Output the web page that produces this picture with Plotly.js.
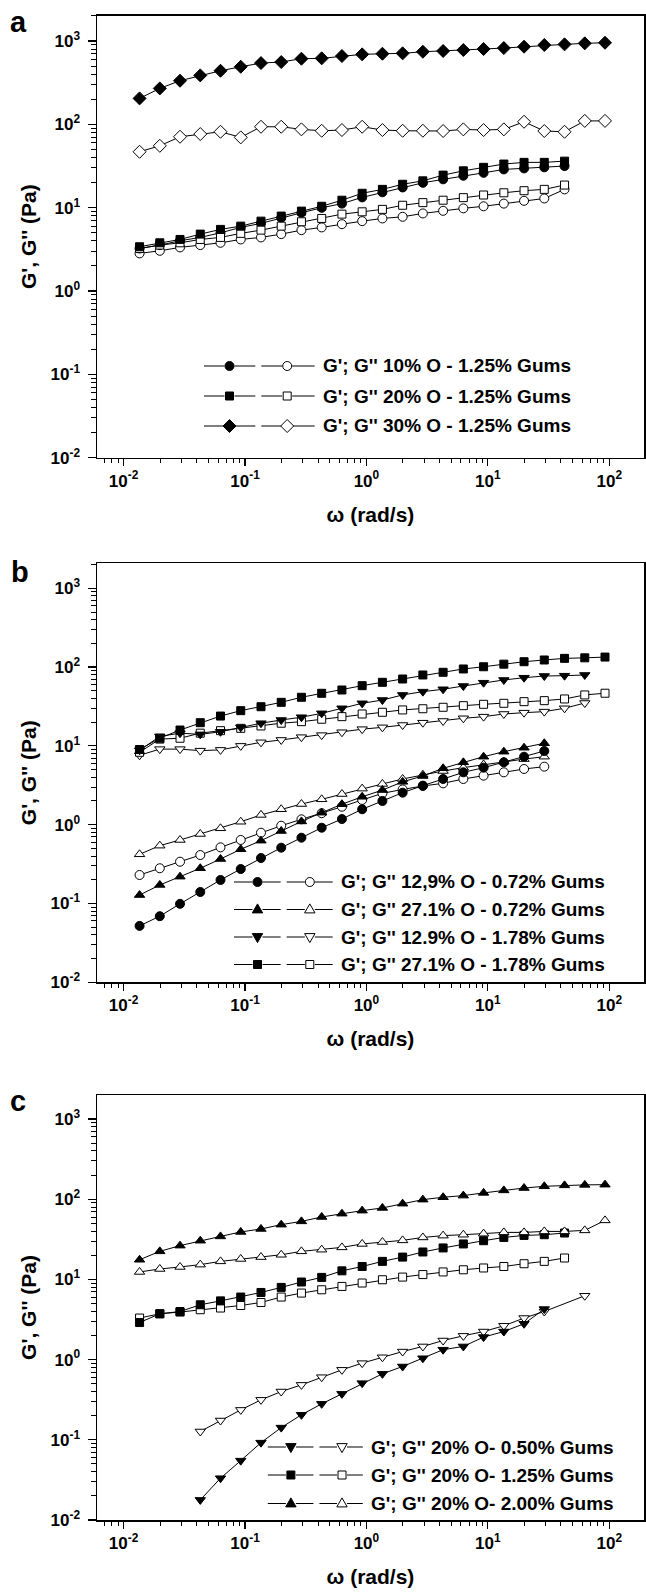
<!DOCTYPE html>
<html>
<head>
<meta charset="utf-8">
<script src="https://cdn.plot.ly/plotly-3.0.1.min.js"></script>
<style>html,body{margin:0;padding:0;background:#fff;}#chart{width:646px;height:1595px;}</style>
</head>
<body>
<div id="chart"></div>
<script>
// ---------- DATA ----------
const freq = [0.01354, 0.01987, 0.02916, 0.04281, 0.06283, 0.09222, 0.1354, 0.1987, 0.2916, 0.4281, 0.6283, 0.9222, 1.354, 1.987, 2.916, 4.281, 6.283, 9.222, 13.54, 19.87, 29.16, 42.81, 62.83, 92.22];

// Panel a (1.25% gums)
const a10_Gp  = [3.24, 3.56, 4.01, 4.40, 5.00, 5.80, 6.48, 7.57, 8.69, 9.98, 11.2, 13.3, 15.3, 17.5, 19.9, 21.9, 24.2, 26.2, 28.8, 29.6, 30.5, 31.6];
const a10_Gpp = [2.83, 3.04, 3.34, 3.56, 3.79, 4.16, 4.40, 4.82, 5.38, 5.80, 6.35, 6.90, 7.43, 7.78, 8.53, 9.18, 9.82, 10.4, 11.2, 12.1, 12.9, 16.6];
const a20_Gp  = [3.40, 3.79, 4.16, 4.82, 5.49, 6.01, 6.90, 7.93, 9.10, 10.4, 12.3, 14.9, 16.6, 19.1, 21.0, 24.6, 27.7, 30.5, 33.4, 35.0, 35.0, 36.2];
const a20_Gpp = [3.24, 3.56, 3.79, 4.16, 4.40, 4.92, 5.38, 6.01, 6.78, 7.43, 8.37, 8.93, 9.55, 10.7, 11.5, 12.3, 13.2, 14.2, 15.1, 16.0, 16.6, 18.7];
const a30_Gp  = [205, 270, 334, 387, 440, 491, 544, 560, 614, 620, 661, 692, 704, 712, 744, 759, 780, 802, 824, 855, 896, 912, 938, 954];
const a30_Gpp = [46.9, 55.3, 71.0, 76.5, 81.5, 69.8, 93.6, 93.6, 87.1, 83.8, 85.5, 93.6, 85.5, 83.8, 83.8, 83.2, 87.1, 85.5, 87.1, 107.5, 83.2, 81.5, 110, 110];

// Panel b
const b129_072_Gp  = [0.052, 0.069, 0.099, 0.140, 0.199, 0.274, 0.378, 0.511, 0.684, 0.916, 1.18, 1.57, 2.00, 2.55, 3.13, 3.80, 4.62, 5.29, 6.19, 7.29, 8.61];
const b129_072_Gpp = [0.230, 0.280, 0.339, 0.412, 0.516, 0.640, 0.791, 0.97, 1.17, 1.40, 1.69, 2.06, 2.50, 2.80, 3.10, 3.35, 3.80, 4.19, 4.62, 5.09, 5.45];
const b271_072_Gp  = [0.128, 0.172, 0.219, 0.280, 0.367, 0.488, 0.627, 0.832, 1.10, 1.42, 1.82, 2.26, 2.75, 3.50, 4.15, 5.2, 6.19, 7.29, 8.44, 9.48, 10.8];
const b271_072_Gpp = [0.421, 0.542, 0.640, 0.762, 0.90, 1.09, 1.33, 1.57, 1.83, 2.10, 2.45, 2.87, 3.29, 3.80, 4.3, 4.8, 5.3, 5.8, 6.3, 6.8, 7.3];
const b129_178_Gp  = [8.8, 13.2, 14.5, 14.0, 15.1, 17.2, 19.4, 21.3, 23.1, 25.9, 30.0, 34.7, 38.2, 44.3, 48.8, 52.3, 57.5, 63.4, 68.6, 73.3, 77.1, 77.8, 79.4];
const b129_178_Gpp = [7.6, 9.1, 9.1, 8.7, 8.9, 10.0, 11.1, 11.9, 12.9, 13.7, 14.9, 16.3, 17.2, 18.4, 19.7, 20.7, 22.4, 23.5, 25.4, 26.4, 27.2, 30.0, 35.0];
const b271_178_Gp  = [9.0, 12.5, 15.9, 19.7, 23.9, 28.0, 31.4, 35.7, 41.4, 46.5, 51.2, 58.1, 64.1, 70.6, 79.4, 85.9, 94.6, 101, 109, 117, 123, 129, 131, 134];
const b271_178_Gpp = [8.3, 12.2, 12.5, 14.5, 15.6, 16.7, 17.9, 19.4, 20.3, 21.8, 23.5, 25.4, 26.7, 28.6, 29.6, 30.9, 32.4, 33.7, 34.7, 36.4, 37.5, 39.4, 44.3, 46.6];

// Panel c (20% oil)
const c050_Gp  = [null, null, null, 0.0178, 0.0332, 0.0550, 0.0922, 0.142, 0.205, 0.281, 0.374, 0.509, 0.665, 0.821, 1.04, 1.33, 1.46, 1.91, 2.24, 2.80, 4.27];
const c050_Gpp = [null, null, null, 0.127, 0.174, 0.236, 0.315, 0.400, 0.484, 0.604, 0.746, 0.904, 1.07, 1.26, 1.46, 1.73, 1.98, 2.24, 2.64, 3.30, 3.98, null, 6.26];
const c125_Gp  = [2.90, 3.73, 3.98, 4.83, 5.40, 6.03, 6.88, 7.95, 9.29, 10.6, 12.8, 14.5, 16.8, 19.0, 22.0, 24.7, 27.7, 30.4, 33.4, 35.4, 36.1, 37.9];
const c125_Gpp = [3.30, 3.73, 3.92, 4.19, 4.40, 4.73, 5.16, 6.03, 6.76, 7.43, 8.18, 9.02, 9.91, 10.7, 11.5, 12.4, 13.2, 13.9, 14.5, 15.7, 16.8, 18.5];
const c200_Gp  = [17.6, 22.4, 26.4, 30.4, 34.4, 39.1, 42.6, 48.2, 53.0, 60.1, 66.1, 72.1, 77.9, 88.1, 98.9, 106, 111, 120, 129, 138, 145, 149, 151, 152];
const c200_Gpp = [12.4, 13.5, 14.3, 15.3, 16.8, 18.0, 19.0, 20.3, 22.4, 23.5, 25.1, 27.7, 29.3, 30.7, 33.4, 35.2, 36.1, 37.2, 38.6, 38.6, 39.7, 39.7, 40.9, 54.5];

// Labels
const panelLabels = ["a", "b", "c"];
const xTitle = "ω (rad/s)";
const yTitle = "G', G'' (Pa)";
const legendA = ["G'; G'' 10% O - 1.25% Gums", "G'; G'' 20% O - 1.25% Gums", "G'; G'' 30% O - 1.25% Gums"];
const legendB = ["G'; G'' 12,9% O - 0.72% Gums", "G'; G'' 27.1% O - 0.72% Gums", "G'; G'' 12.9% O - 1.78% Gums", "G'; G'' 27.1% O - 1.78% Gums"];
const legendC = ["G'; G'' 20% O- 0.50% Gums", "G'; G'' 20% O- 1.25% Gums", "G'; G'' 20% O- 2.00% Gums"];
const xTickVals = [0.01, 0.1, 1, 10, 100];
const xTickText = ["10<sup>-2</sup>", "10<sup>-1</sup>", "10<sup>0</sup>", "10<sup>1</sup>", "10<sup>2</sup>"];
const yTickVals = [0.01, 0.1, 1, 10, 100, 1000];
const yTickText = ["10<sup>-2</sup>", "10<sup>-1</sup>", "10<sup>0</sup>", "10<sup>1</sup>", "10<sup>2</sup>", "10<sup>3</sup>"];

// ---------- STYLE / LAYOUT ----------
const W = 646, H = 1595, ML = 97, MR = 2;
const PW = W - ML - MR;
const FONT = "Liberation Sans, Arial, Helvetica, sans-serif";
const px2x = px => (px - ML) / PW;
const py2y = py => 1 - py / H;

const minorVals = [];
for (let e = -3; e <= 3; e++) for (let m = 2; m <= 9; m++) minorVals.push(m * Math.pow(10, e));

const msize = {circle: 9, square: 8, diamond: 10, 'triangle-up': 9, 'triangle-down': 9};

function series(y, sym, filled, n) {
  return {
    type: 'scatter', mode: 'lines+markers',
    x: freq, y: y,
    xaxis: 'x' + (n === 1 ? '' : n), yaxis: 'y' + (n === 1 ? '' : n),
    connectgaps: true, showlegend: false, cliponaxis: true,
    line: {color: 'black', width: 1},
    marker: {symbol: sym, size: msize[sym], color: filled ? 'black' : 'white', line: {color: 'black', width: 1}}
  };
}

const traces = [
  series(a10_Gpp, 'circle', false, 1), series(a10_Gp, 'circle', true, 1),
  series(a20_Gpp, 'square', false, 1), series(a20_Gp, 'square', true, 1),
  series(a30_Gpp, 'diamond', false, 1), series(a30_Gp, 'diamond', true, 1),

  series(b129_072_Gpp, 'circle', false, 2), series(b271_072_Gpp, 'triangle-up', false, 2),
  series(b129_072_Gp, 'circle', true, 2), series(b271_072_Gp, 'triangle-up', true, 2),
  series(b129_178_Gpp, 'triangle-down', false, 2), series(b271_178_Gpp, 'square', false, 2),
  series(b129_178_Gp, 'triangle-down', true, 2), series(b271_178_Gp, 'square', true, 2),

  series(c050_Gpp, 'triangle-down', false, 3), series(c050_Gp, 'triangle-down', true, 3),
  series(c125_Gpp, 'square', false, 3), series(c125_Gp, 'square', true, 3),
  series(c200_Gpp, 'triangle-up', false, 3), series(c200_Gp, 'triangle-up', true, 3)
];

// panel geometry (pixels)
const panels = [
  {top: 15.7, bottom: 457.7, yr: [-2, 3.304]},
  {top: 563.3, bottom: 982.3, yr: [-2, 3.317]},
  {top: 1095, bottom: 1520, yr: [-2, 3.30]}
];

function xAxis(n) {
  return {
    type: 'log', range: [-2.219, 2.286], domain: [0, 1], anchor: 'y' + (n === 1 ? '' : n),
    showline: true, linewidth: 1.5, linecolor: 'black', mirror: true,
    ticks: 'outside', ticklen: 7, tickwidth: 1.2, tickcolor: 'black',
    tickmode: 'array', tickvals: xTickVals, ticktext: xTickText,
    tickfont: {family: FONT, size: 17, color: 'black', weight: 'bold'},
    minor: {ticks: 'outside', ticklen: 4, tickwidth: 1, tickcolor: 'black', tickmode: 'array', tickvals: minorVals, showgrid: false},
    showgrid: false, zeroline: false,
    title: {text: xTitle, font: {family: FONT, size: 21, color: 'black', weight: 'bold'}, standoff: 17}
  };
}
function yAxis(n) {
  const p = panels[n - 1];
  return {
    type: 'log', range: p.yr, domain: [py2y(p.bottom), py2y(p.top)], anchor: 'x' + (n === 1 ? '' : n),
    showline: true, linewidth: 1.5, linecolor: 'black', mirror: true,
    ticks: 'outside', ticklen: 8, tickwidth: 1.2, tickcolor: 'black',
    tickmode: 'array', tickvals: yTickVals, ticktext: yTickText,
    tickfont: {family: FONT, size: 17, color: 'black', weight: 'bold'},
    ticklabelstandoff: 4,
    minor: {ticks: 'outside', ticklen: 5, tickwidth: 1, tickcolor: 'black', tickmode: 'array', tickvals: minorVals, showgrid: false},
    showgrid: false, zeroline: false,
    title: {text: yTitle, font: {family: FONT, size: 21, color: 'black', weight: 'bold'}, standoff: 8}
  };
}

// legend drawing (layout shapes + annotations)
const legendSpecs = [
  {labels: legendA, syms: ['circle', 'square', 'diamond'], x0: 204, mk1: 229.5, mk2: 287.2, tx: 320.6, rows: [366, 396, 426]},
  {labels: legendB, syms: ['circle', 'triangle-up', 'triangle-down', 'square'], x0: 234, mk1: 257.5, mk2: 309.8, tx: 338.7, rows: [882, 909.5, 937, 964.5]},
  {labels: legendC, syms: ['triangle-down', 'square', 'triangle-up'], x0: 267.8, mk1: 290.9, mk2: 342, tx: 368.8, rows: [1447, 1475, 1503.5]}
];
const symPath = {
  diamond: 'M0,6.5L6.5,0L0,-6.5L-6.5,0Z',
  'triangle-up': 'M-5.2,-3.4L5.2,-3.4L0,5.6Z',
  'triangle-down': 'M-5.2,3.4L5.2,3.4L0,-5.6Z'
};
const shapes = [], annotations = [];
function markerShape(sym, cx, cy, filled) {
  const base = {xref: 'paper', yref: 'paper', xsizemode: 'pixel', ysizemode: 'pixel',
    xanchor: px2x(cx), yanchor: py2y(cy), fillcolor: filled ? 'black' : 'white',
    line: {color: 'black', width: 1}, layer: 'above'};
  if (sym === 'circle') return Object.assign(base, {type: 'circle', x0: -4.5, x1: 4.5, y0: -4.5, y1: 4.5});
  if (sym === 'square') return Object.assign(base, {type: 'rect', x0: -4, x1: 4, y0: -4, y1: 4});
  return Object.assign(base, {type: 'path', path: symPath[sym]});
}
function seg(xa, xb, y) {
  shapes.push({type: 'line', xref: 'paper', yref: 'paper', x0: px2x(xa), x1: px2x(xb), y0: py2y(y), y1: py2y(y), line: {color: 'black', width: 1}, layer: 'above'});
}
legendSpecs.forEach(sp => {
  sp.labels.forEach((lab, i) => {
    const y = sp.rows[i];
    const mid = (sp.mk1 + sp.mk2) / 2;
    seg(sp.x0, sp.mk1 - 5, y);
    seg(sp.mk1 + 5, mid - 3, y);
    seg(mid + 3, sp.mk2 - 5, y);
    seg(sp.mk2 + 5, sp.tx - 6, y);
    shapes.push(markerShape(sp.syms[i], sp.mk1, y, true));
    shapes.push(markerShape(sp.syms[i], sp.mk2, y, false));
    annotations.push({xref: 'paper', yref: 'paper', x: px2x(sp.tx), y: py2y(y), xanchor: 'left', yanchor: 'middle',
      text: lab, showarrow: false, font: {family: FONT, size: 19, color: 'black', weight: 'bold'}});
  });
});
// panel letters
const letterPos = [[18, 22], [20, 572], [18, 1101]];
panelLabels.forEach((t, i) => {
  annotations.push({xref: 'paper', yref: 'paper', x: px2x(letterPos[i][0]), y: py2y(letterPos[i][1]),
    xanchor: 'center', yanchor: 'middle', text: t, showarrow: false,
    font: {family: FONT, size: 29, color: 'black', weight: 'bold'}});
});

const layout = {
  width: W, height: H,
  margin: {l: ML, r: MR, t: 0, b: 0, pad: 0},
  paper_bgcolor: 'white', plot_bgcolor: 'white',
  showlegend: false,
  xaxis: xAxis(1), yaxis: yAxis(1),
  xaxis2: xAxis(2), yaxis2: yAxis(2),
  xaxis3: xAxis(3), yaxis3: yAxis(3),
  shapes: shapes, annotations: annotations
};

Plotly.newPlot('chart', traces, layout, {displayModeBar: false, staticPlot: true});
</script>
</body>
</html>
